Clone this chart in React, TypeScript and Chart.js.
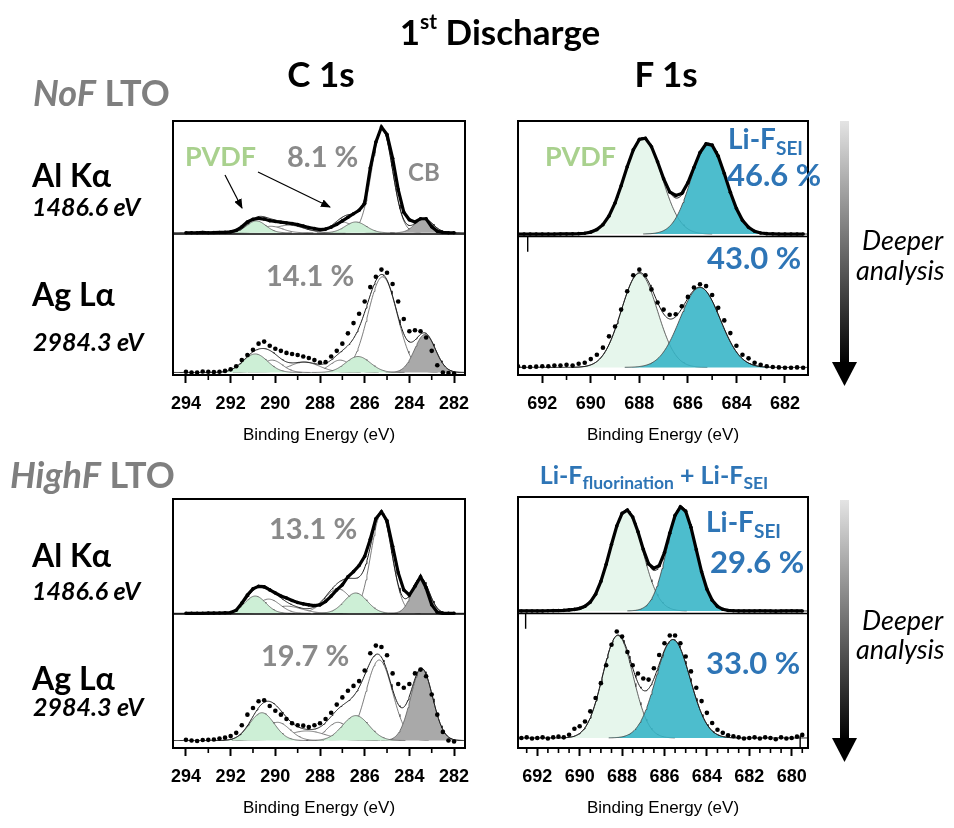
import React, { useEffect, useRef } from 'react';
import { Chart, registerables } from 'chart.js';

Chart.register(...registerables);

const LATO = 'Lato, "Open Sans", sans-serif';
const ARIAL = '"Liberation Sans", Arial, sans-serif';

// ---------------- data ----------------
const E_C1S = [294, 293.75, 293.5, 293.25, 293, 292.75, 292.5, 292.25, 292, 291.75, 291.5, 291.25, 291, 290.75, 290.5, 290.25, 290, 289.75, 289.5, 289.25, 289, 288.75, 288.5, 288.25, 288, 287.75, 287.5, 287.25, 287, 286.75, 286.5, 286.25, 286, 285.75, 285.5, 285.25, 285, 284.75, 284.5, 284.25, 284, 283.75, 283.5, 283.25, 283, 282.75, 282.5, 282.25, 282];

const NOF_C1S_AL = [0, 0, 0, 0.003, 0, 0.002, 0.003, 0.004, 0.008, 0.022, 0.055, 0.1, 0.124, 0.134, 0.127, 0.112, 0.104, 0.098, 0.091, 0.085, 0.075, 0.062, 0.049, 0.039, 0.03, 0.034, 0.052, 0.078, 0.11, 0.143, 0.176, 0.208, 0.27, 0.6, 0.84, 0.98, 0.91, 0.69, 0.4, 0.19, 0.12, 0.1, 0.13, 0.13, 0.055, 0.013, 0.003, 0, 0];
const NOF_C1S_AG = [0.007, 0, 0, 0.01, 0.007, 0.005, 0.007, 0.015, 0.03, 0.06, 0.12, 0.17, 0.22, 0.28, 0.3, 0.26, 0.23, 0.21, 0.19, 0.18, 0.17, 0.155, 0.14, 0.12, 0.097, 0.1, 0.155, 0.21, 0.28, 0.38, 0.48, 0.57, 0.69, 0.83, 0.93, 1.0, 0.97, 0.86, 0.69, 0.52, 0.4, 0.41, 0.4, 0.34, 0.21, 0.07, 0, -0.005, -0.01];
const HIGHF_C1S_AL = [0, 0, 0, 0, 0.002, 0.002, 0.003, 0.005, 0.007, 0.03, 0.1, 0.18, 0.24, 0.265, 0.26, 0.23, 0.2, 0.17, 0.15, 0.126, 0.106, 0.093, 0.083, 0.076, 0.083, 0.116, 0.17, 0.23, 0.28, 0.36, 0.41, 0.47, 0.56, 0.73, 0.93, 1.0, 0.91, 0.66, 0.4, 0.23, 0.18, 0.265, 0.36, 0.25, 0.083, 0.01, 0, 0, 0];
const HIGHF_C1S_AG = [0.007, 0, -0.005, 0.005, 0.007, 0.01, 0.02, 0.03, 0.046, 0.08, 0.16, 0.27, 0.34, 0.41, 0.42, 0.36, 0.31, 0.27, 0.225, 0.18, 0.16, 0.155, 0.14, 0.16, 0.18, 0.225, 0.29, 0.375, 0.45, 0.52, 0.57, 0.62, 0.73, 0.91, 0.99, 0.975, 0.89, 0.7, 0.59, 0.55, 0.59, 0.7, 0.74, 0.67, 0.48, 0.27, 0.09, 0, -0.01];

const E_F1S_TOP = [693, 692.75, 692.5, 692.25, 692, 691.75, 691.5, 691.25, 691, 690.75, 690.5, 690.25, 690, 689.75, 689.5, 689.25, 689, 688.75, 688.5, 688.25, 688, 687.75, 687.5, 687.25, 687, 686.75, 686.5, 686.25, 686, 685.75, 685.5, 685.25, 685, 684.75, 684.5, 684.25, 684, 683.75, 683.5, 683.25, 683, 682.75, 682.5, 682.25, 682, 681.75, 681.5, 681.25];
const NOF_F1S_AL = [0, 0, 0, 0, 0, 0, 0, 0.001, 0.001, 0.002, 0.004, 0.008, 0.02, 0.046, 0.097, 0.187, 0.322, 0.5, 0.697, 0.872, 0.981, 0.992, 0.905, 0.749, 0.574, 0.436, 0.4, 0.42, 0.53, 0.689, 0.845, 0.934, 0.921, 0.807, 0.627, 0.432, 0.264, 0.143, 0.069, 0.029, 0.011, 0.004, 0.002, 0, 0, 0, 0, 0];
const NOF_F1S_AG = [0.012, 0.004, 0.004, 0.008, 0.012, 0.012, 0.019, 0.019, 0.027, 0.019, 0.038, 0.05, 0.088, 0.135, 0.21, 0.33, 0.435, 0.615, 0.81, 0.98, 1.04, 0.98, 0.83, 0.69, 0.615, 0.56, 0.565, 0.65, 0.75, 0.85, 0.885, 0.865, 0.77, 0.635, 0.5, 0.365, 0.23, 0.135, 0.096, 0.05, 0.027, 0.012, 0.004, 0, -0.004, -0.004, 0, -0.004];

const E_F1S_BOT = [693, 692.75, 692.5, 692.25, 692, 691.75, 691.5, 691.25, 691, 690.75, 690.5, 690.25, 690, 689.75, 689.5, 689.25, 689, 688.75, 688.5, 688.25, 688, 687.75, 687.5, 687.25, 687, 686.75, 686.5, 686.25, 686, 685.75, 685.5, 685.25, 685, 684.75, 684.5, 684.25, 684, 683.75, 683.5, 683.25, 683, 682.75, 682.5, 682.25, 682, 681.75, 681.5, 681.25, 681, 680.75, 680.5, 680.25, 680, 679.75, 679.5];
const HIGHF_F1S_AL = [0, 0, 0, 0, 0, 0, 0.002, 0.003, 0.004, 0.006, 0.01, 0.015, 0.025, 0.045, 0.085, 0.161, 0.283, 0.448, 0.638, 0.816, 0.937, 0.968, 0.901, 0.76, 0.591, 0.452, 0.41, 0.435, 0.561, 0.747, 0.918, 1.0, 0.958, 0.803, 0.588, 0.376, 0.21, 0.103, 0.044, 0.016, 0.005, 0.002, 0, 0, 0, 0, 0.002, 0, 0, -0.002, 0, 0, 0.002, 0, 0];
const HIGHF_F1S_AG = [-0.006, 0, 0.006, -0.006, 0, 0.006, -0.006, 0.006, 0.013, 0.006, 0.032, 0.09, 0.114, 0.16, 0.26, 0.39, 0.535, 0.71, 0.91, 1.04, 0.99, 0.84, 0.71, 0.63, 0.58, 0.57, 0.68, 0.81, 0.925, 1.0, 1.0, 0.925, 0.795, 0.65, 0.49, 0.36, 0.245, 0.146, 0.08, 0.05, 0.026, 0.016, 0.006, -0.006, 0, 0.006, -0.006, 0.006, 0, -0.013, 0.006, -0.006, 0, 0.013, 0.03];

// fitted components: [centre eV, height, FWHM eV, kind]
type Peak = [number, number, number, string];
const NOF_C1S_AL_PEAKS: Peak[] = [[290.85, 0.11, 1.0, 'pvdfC'], [290.2, 0.06, 1.2, 'white'], [289.4, 0.07, 1.6, 'white'], [287.0, 0.1, 1.1, 'white'], [286.4, 0.1, 1.1, 'pvdfC'], [285.22, 0.96, 1.1, 'white'], [283.35, 0.13, 0.95, 'cb']];
const NOF_C1S_AG_PEAKS: Peak[] = [[290.9, 0.18, 1.3, 'pvdfC'], [290.15, 0.12, 1.1, 'white'], [288.7, 0.1, 1.6, 'white'], [287.1, 0.12, 1.1, 'white'], [286.3, 0.155, 1.3, 'pvdfC'], [285.2, 0.93, 1.55, 'white'], [283.3, 0.37, 1.1, 'cb']];
const HIGHF_C1S_AL_PEAKS: Peak[] = [[290.9, 0.17, 1.1, 'pvdfC'], [290.3, 0.14, 1.2, 'white'], [289.5, 0.07, 1.6, 'white'], [287.2, 0.24, 1.4, 'white'], [286.4, 0.2, 1.2, 'pvdfC'], [285.25, 0.98, 1.1, 'white'], [283.5, 0.35, 0.9, 'cb']];
const HIGHF_C1S_AG_PEAKS: Peak[] = [[290.6, 0.29, 1.3, 'pvdfC'], [289.9, 0.19, 1.3, 'white'], [288.6, 0.1, 2.0, 'white'], [287.2, 0.19, 1.2, 'white'], [286.4, 0.26, 1.4, 'pvdfC'], [285.35, 0.84, 1.4, 'white'], [283.45, 0.75, 1.15, 'cb']];
const NOF_F1S_AL_PEAKS: Peak[] = [[687.85, 1.0, 1.8, 'pvdfF'], [685.15, 0.94, 1.7, 'lif']];
const NOF_F1S_AG_PEAKS: Peak[] = [[688.0, 1.0, 1.75, 'pvdfF'], [685.5, 0.85, 1.95, 'lif']];
const HIGHF_F1S_AL_PEAKS: Peak[] = [[687.8, 0.97, 1.8, 'pvdfF'], [685.2, 1.0, 1.6, 'lif']];
const HIGHF_F1S_AG_PEAKS: Peak[] = [[688.2, 1.0, 1.7, 'pvdfF'], [685.6, 0.96, 1.9, 'lif']];

const C1S_MINOR = [293, 291, 289, 287, 285, 283];
const F1S_TOP_MINOR = [691, 689, 687, 685, 683];
const F1S_BOT_MINOR = [692.5, 691.5, 691, 690.5, 689.5, 689, 688.5, 687.5, 687, 686.5, 685.5, 685, 684.5, 683.5, 683, 682.5, 681.5, 681, 680.5, 679.5];

// ---------------- styling ----------------
const FILL: Record<string, string> = {
  pvdfC: '#cdefd6',
  white: '#ffffff',
  cb: '#a9a9a9',
  pvdfF: '#e6f6ec',
  lif: 'rgba(52,180,198,0.88)',
};
const GRAY = '#8a8a8a';
const BLUE = '#2e75b6';
const GREEN = '#a9d18e';

const PAD_X = 30;
const PAD_T = 8;
const AXIS_H = 72;

interface Spectrum { energies: number[]; values: number[]; peaks: Peak[]; base: number; amp: number; dense: boolean; }
interface PanelCfg {
  id: string;
  box: { left: number; top: number; width: number; height: number };
  min: number; max: number;
  minor: number[];
  divider: number;
  spectra: Spectrum[];
  marks: { x: number; y0: number; y1: number }[];
}

const PANELS: PanelCfg[] = [
  {
    id: 'c1s-top', box: { left: 173, top: 121, width: 292, height: 254 }, min: 281.51, max: 294.58,
    minor: C1S_MINOR, divider: 55.5, marks: [],
    spectra: [
      { energies: E_C1S, values: NOF_C1S_AL, peaks: NOF_C1S_AL_PEAKS, base: 56, amp: 42.5, dense: true },
      { energies: E_C1S, values: NOF_C1S_AG, peaks: NOF_C1S_AG_PEAKS, base: 1.0, amp: 40.5, dense: false },
    ],
  },
  {
    id: 'f1s-top', box: { left: 518, top: 121, width: 290, height: 254 }, min: 681.05, max: 693.0,
    minor: F1S_TOP_MINOR, divider: 54.5, marks: [{ x: 692.6, y0: 54.5, y1: 48.5 }],
    spectra: [
      { energies: E_F1S_TOP, values: NOF_F1S_AL, peaks: NOF_F1S_AL_PEAKS, base: 55.5, amp: 38, dense: true },
      { energies: E_F1S_TOP, values: NOF_F1S_AG, peaks: NOF_F1S_AG_PEAKS, base: 3.0, amp: 37, dense: false },
    ],
  },
  {
    id: 'c1s-bot', box: { left: 173, top: 499, width: 292, height: 249 }, min: 281.51, max: 294.58,
    minor: C1S_MINOR, divider: 53.8, marks: [],
    spectra: [
      { energies: E_C1S, values: HIGHF_C1S_AL, peaks: HIGHF_C1S_AL_PEAKS, base: 54.1, amp: 40.8, dense: true },
      { energies: E_C1S, values: HIGHF_C1S_AG, peaks: HIGHF_C1S_AG_PEAKS, base: 3.0, amp: 38.5, dense: false },
    ],
  },
  {
    id: 'f1s-bot', box: { left: 518, top: 497, width: 290, height: 251 }, min: 679.23, max: 692.91,
    minor: F1S_BOT_MINOR, divider: 53.6, marks: [{ x: 692.55, y0: 53.6, y1: 47.5 }, { x: 679.6, y0: 0, y1: 5 }],
    spectra: [
      { energies: E_F1S_BOT, values: HIGHF_F1S_AL, peaks: HIGHF_F1S_AL_PEAKS, base: 54.6, amp: 41.5, dense: true },
      { energies: E_F1S_BOT, values: HIGHF_F1S_AG, peaks: HIGHF_F1S_AG_PEAKS, base: 4.0, amp: 40.8, dense: false },
    ],
  },
];

const gauss = (e: number, c: number, w: number) => Math.exp((-4 * Math.LN2 * (e - c) * (e - c)) / (w * w));

const framePlugin = {
  id: 'frame',
  afterDatasetsDraw(chart: any, _args: any, opts: any) {
    const { ctx, chartArea: a, scales } = chart;
    const x = scales.x;
    const y = scales.y;
    ctx.save();
    ctx.strokeStyle = '#000';
    ctx.lineWidth = 1.6;
    const yd = y.getPixelForValue(opts.divider);
    ctx.beginPath();
    ctx.moveTo(a.left, yd);
    ctx.lineTo(a.right, yd);
    ctx.stroke();
    ctx.lineWidth = 1.4;
    (opts.marks || []).forEach((m: any) => {
      const px = x.getPixelForValue(m.x);
      ctx.beginPath();
      ctx.moveTo(px, y.getPixelForValue(m.y0));
      ctx.lineTo(px, y.getPixelForValue(m.y1));
      ctx.stroke();
    });
    ctx.lineWidth = 2;
    ctx.strokeRect(a.left, a.top, a.right - a.left, a.bottom - a.top);
    ctx.lineWidth = 1.6;
    (opts.minor || []).forEach((v: number) => {
      const px = x.getPixelForValue(v);
      ctx.beginPath();
      ctx.moveTo(px, a.bottom);
      ctx.lineTo(px, a.bottom + 5);
      ctx.stroke();
    });
    ctx.restore();
  },
};

function Panel({ cfg }: { cfg: PanelCfg }) {
  const ref = useRef<HTMLCanvasElement | null>(null);
  const W = cfg.box.width + 2 * PAD_X;
  const H = cfg.box.height + PAD_T + AXIS_H;
  useEffect(() => {
    if (!ref.current) return;
    const grid: number[] = [];
    for (let e = cfg.max; e >= cfg.min; e -= 0.04) grid.push(Math.round(e * 1000) / 1000);
    const datasets: any[] = [];
    cfg.spectra.forEach((sp) => {
      sp.peaks.forEach(([c, h, w, kind]) => {
        const pts = grid
          .filter((e) => Math.abs(e - c) < 1.6 * w)
          .map((e) => ({ x: e, y: sp.base + sp.amp * h * gauss(e, c, w) }));
        const isF = kind === 'lif' || kind === 'pvdfF';
        datasets.push({
          data: pts,
          showLine: true,
          pointRadius: 0,
          borderColor: isF ? '#3c3c3c' : '#5c5c5c',
          borderWidth: 0.8,
          backgroundColor: FILL[kind],
          fill: { value: sp.base },
          order: kind === 'white' || kind === 'pvdfF' ? 6 : 5,
        });
      });
      const env = grid.map((e) => ({
        x: e,
        y: sp.base + sp.amp * sp.peaks.reduce((s, [c, h, w]) => s + h * gauss(e, c, w), 0),
      }));
      datasets.push({ data: env, showLine: true, pointRadius: 0, borderColor: '#1a1a1a', borderWidth: 1, fill: false, order: 3 });
      datasets.push({
        data: sp.energies.map((e, i) => ({ x: e, y: sp.base + sp.amp * sp.values[i] })),
        showLine: sp.dense,
        borderColor: '#000',
        borderWidth: sp.dense ? 3.2 : 0,
        pointRadius: sp.dense ? 1.8 : 2.3,
        pointBackgroundColor: '#000',
        pointBorderWidth: 0,
        fill: false,
        order: 1,
      });
    });
    const chart = new Chart(ref.current, {
      type: 'scatter',
      data: { datasets },
      options: {
        responsive: false,
        animation: false,
        devicePixelRatio: 1,
        layout: { padding: { left: PAD_X, right: PAD_X, top: PAD_T, bottom: 0 } },
        plugins: {
          legend: { display: false },
          tooltip: { enabled: false },
          frame: { divider: cfg.divider, minor: cfg.minor, marks: cfg.marks },
        } as any,
        scales: {
          x: {
            type: 'linear',
            reverse: true,
            min: cfg.min,
            max: cfg.max,
            afterFit: (s: any) => { s.height = AXIS_H; },
            ticks: {
              stepSize: 2,
              includeBounds: false,
              autoSkip: false,
              maxRotation: 0,
              padding: 10,
              color: '#000',
              font: { family: ARIAL, size: 18, weight: 'bold' },
              callback: (v: any) => String(Math.round(Number(v))),
            },
            grid: { display: true, drawOnChartArea: false, drawTicks: true, tickLength: 8, tickColor: '#000', tickWidth: 2, color: '#000' },
            border: { display: false },
            title: {
              display: true,
              text: 'Binding Energy (eV)',
              color: '#000',
              font: { family: ARIAL, size: 17, weight: 'normal' },
              padding: { top: 0, bottom: 1 },
            },
          },
          y: { display: false, min: 0, max: 100 },
        },
      } as any,
      plugins: [framePlugin],
    });
    return () => chart.destroy();
  }, [cfg]);
  return (
    <canvas
      ref={ref}
      width={W}
      height={H}
      style={{ position: 'absolute', left: cfg.box.left - PAD_X, top: cfg.box.top - PAD_T, width: W, height: H }}
    />
  );
}

function Txt(props: { x: number; y: number; size: number; children: any; color?: string; italic?: boolean; weight?: number; center?: boolean }) {
  const { x, y, size, children, color = '#000', italic = false, weight = 700, center = false } = props;
  return (
    <div
      style={{
        position: 'absolute',
        left: x,
        top: y - 0.887 * size,
        fontFamily: LATO,
        fontSize: size,
        lineHeight: `${size}px`,
        fontWeight: weight,
        fontStyle: italic ? 'italic' : 'normal',
        color,
        whiteSpace: 'nowrap',
        transform: center ? 'translateX(-50%)' : undefined,
      }}
    >
      {children}
    </div>
  );
}

const Sub = ({ children, k = 0.68 }: { children: any; k?: number }) => (
  <span style={{ fontSize: `${k}em`, position: 'relative', top: '0.32em' }}>{children}</span>
);

export default function App() {
  return (
    <div style={{ position: 'absolute', left: 0, top: 0, width: 954, height: 828, background: '#fff', overflow: 'hidden' }}>
      {PANELS.map((p) => <Panel key={p.id} cfg={p} />)}
      <svg width={954} height={828} style={{ position: 'absolute', left: 0, top: 0 }}>
        <defs>
          <marker id="ah" markerUnits="userSpaceOnUse" markerWidth="10" markerHeight="8" refX="9" refY="4" orient="auto">
            <path d="M0,0 L10,4 L0,8 z" fill="#000" />
          </marker>
          <linearGradient id="bar" x1="0" y1="0" x2="0" y2="1">
            <stop offset="0" stopColor="#e4e4e4" />
            <stop offset="1" stopColor="#000" />
          </linearGradient>
        </defs>
        <line x1={225} y1={175} x2={242} y2={208} stroke="#000" strokeWidth={1.2} markerEnd="url(#ah)" />
        <line x1={258} y1={172} x2={330} y2={207} stroke="#000" strokeWidth={1.2} markerEnd="url(#ah)" />
        <rect x={840} y={121} width={9} height={243} fill="url(#bar)" />
        <polygon points="832,362 857,362 844.5,386" fill="#000" />
        <rect x={840} y={500} width={9} height={240} fill="url(#bar)" />
        <polygon points="832,738 857,738 844.5,762" fill="#000" />
      </svg>

      <Txt x={500} y={45} size={35} center>1<span style={{ fontSize: '0.6em', position: 'relative', top: '-0.75em' }}>st</span> Discharge</Txt>
      <Txt x={321} y={87} size={35} center>C 1s</Txt>
      <Txt x={666} y={87} size={35} center>F 1s</Txt>

      <Txt x={33} y={106} size={36} color="#7f7f7f"><i>NoF</i> LTO</Txt>
      <Txt x={10} y={488} size={36} color="#7f7f7f"><i>HighF</i> LTO</Txt>

      <Txt x={32} y={187} size={32}>Al Kα</Txt>
      <Txt x={32} y={216} size={25} italic>1486.6 eV</Txt>
      <Txt x={32} y={306} size={32}>Ag Lα</Txt>
      <Txt x={33} y={351} size={25} italic>2984.3 eV</Txt>
      <Txt x={32} y={567} size={32}>Al Kα</Txt>
      <Txt x={32} y={600} size={25} italic>1486.6 eV</Txt>
      <Txt x={32} y={690} size={32}>Ag Lα</Txt>
      <Txt x={33} y={716} size={25} italic>2984.3 eV</Txt>

      <Txt x={185} y={166} size={27} color={GREEN}>PVDF</Txt>
      <Txt x={287} y={167} size={29} color={GRAY}>8.1 %</Txt>
      <Txt x={408} y={181} size={24} color={GRAY}>CB</Txt>
      <Txt x={266} y={286} size={29} color={GRAY}>14.1 %</Txt>
      <Txt x={269} y={539} size={29} color={GRAY}>13.1 %</Txt>
      <Txt x={261} y={666} size={29} color={GRAY}>19.7 %</Txt>

      <Txt x={545} y={166} size={27} color={GREEN}>PVDF</Txt>
      <Txt x={728} y={149} size={28} color={BLUE}>Li-F<Sub>SEI</Sub></Txt>
      <Txt x={727} y={186} size={31} color={BLUE}>46.6 %</Txt>
      <Txt x={707} y={269} size={31} color={BLUE}>43.0 %</Txt>
      <Txt x={654} y={484} size={25} color={BLUE} center>Li-F<Sub k={0.7}>fluorination</Sub> + Li-F<Sub k={0.7}>SEI</Sub></Txt>
      <Txt x={706} y={532} size={28} color={BLUE}>Li-F<Sub>SEI</Sub></Txt>
      <Txt x={710} y={573} size={31} color={BLUE}>29.6 %</Txt>
      <Txt x={706} y={674} size={31} color={BLUE}>33.0 %</Txt>

      <Txt x={862} y={250} size={27} italic weight={400}>Deeper</Txt>
      <Txt x={856} y={280} size={27} italic weight={400}>analysis</Txt>
      <Txt x={862} y={630} size={27} italic weight={400}>Deeper</Txt>
      <Txt x={856} y={659} size={27} italic weight={400}>analysis</Txt>
    </div>
  );
}
